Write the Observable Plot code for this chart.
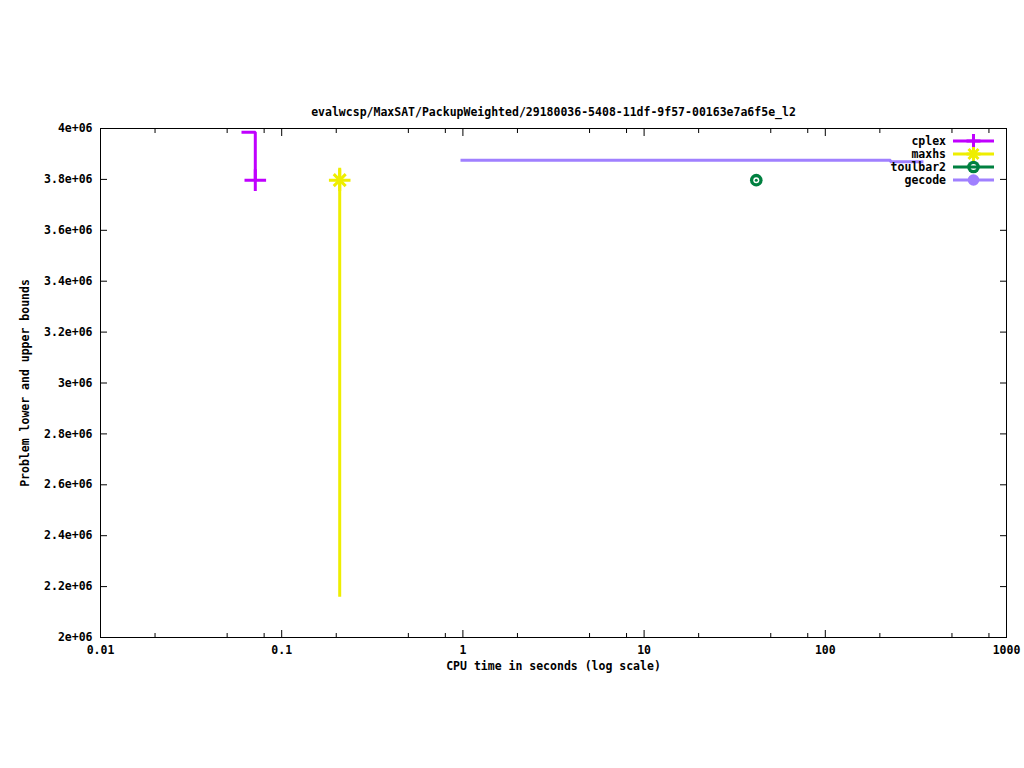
<!DOCTYPE html>
<html><head><meta charset="utf-8">
<script src="https://cdn.jsdelivr.net/npm/d3@7"></script>
<script src="https://cdn.jsdelivr.net/npm/@observablehq/plot@0.6"></script>
<style>body{margin:0;background:#fff} svg{display:block}</style>
</head><body><div id="chart"></div>
<script>
const title = "evalwcsp/MaxSAT/PackupWeighted/29180036-5408-11df-9f57-00163e7a6f5e_l2";
const xLabel = "CPU time in seconds (log scale)";
const yLabel = "Problem lower and upper bounds";

const solvers = ["cplex", "maxhs", "toulbar2", "gecode"];
const colors = ["#c000ff", "#eeee00", "#008040", "#a080ff"];

// cplex: bound steps, solution marker at last point
const cplexTime = [0.06, 0.0715];
const cplexValue = [3985000, 3797000];
// maxhs: lower/upper bound bar and solution
const maxhsTime = [0.209];
const maxhsLower = [2158000];
const maxhsUpper = [3844000];
const maxhsValue = [3797000];
// toulbar2: solution
const toulbar2Time = [41.6];
const toulbar2Value = [3797000];
// gecode: upper bound steps
const gecodeTime = [0.97, 229, 348];
const gecodeValue = [3875000, 3869500, 3869500];

const xTicks = [0.01, 0.1, 1, 10, 100, 1000];
const xTickLabels = ["0.01", "0.1", "1", "10", "100", "1000"];
const xMinorTicks = [0.02, 0.05, 0.08, 0.2, 0.5, 0.8, 2, 5, 8, 20, 50, 80, 200, 500, 800];
const yTicks = [2000000, 2200000, 2400000, 2600000, 2800000, 3000000, 3200000, 3400000, 3600000, 3800000, 4000000];
const yTickLabels = ["2e+06", "2.2e+06", "2.4e+06", "2.6e+06", "2.8e+06", "3e+06", "3.2e+06", "3.4e+06", "3.6e+06", "3.8e+06", "4e+06"];

const cplex = cplexTime.map((t, i) => ({t, v: cplexValue[i]}));
const maxhs = maxhsTime.map((t, i) => ({t, lo: maxhsLower[i], hi: maxhsUpper[i], v: maxhsValue[i]}));
const toulbar2 = toulbar2Time.map((t, i) => ({t, v: toulbar2Value[i]}));
const gecode = gecodeTime.map((t, i) => ({t, v: gecodeValue[i]}));

const font = "DejaVu Sans Mono";
const fs = 11.5;
const chart = Plot.plot({
  width: 1024,
  height: 768,
  marginLeft: 100,
  marginRight: 18,
  marginTop: 128,
  marginBottom: 131,
  style: {fontFamily: font, fontSize: fs + "px", fontWeight: "bold", background: "#fff", color: "#000"},
  x: {type: "log", domain: [0.01, 1000]},
  y: {domain: [2000000, 4000000]},
  marks: [
    Plot.frame({stroke: "#000"}),
    // major ticks (inward, mirrored)
    Plot.axisX(xTicks, {anchor: "bottom", tickSize: -7, fill: "none", label: null}),
    Plot.axisX(xTicks, {anchor: "top", tickSize: -7, fill: "none", label: null}),
    Plot.axisX(xMinorTicks, {anchor: "bottom", tickSize: -4, fill: "none", label: null}),
    Plot.axisX(xMinorTicks, {anchor: "top", tickSize: -4, fill: "none", label: null}),
    Plot.axisY(yTicks, {anchor: "left", tickSize: -7, fill: "none", label: null}),
    Plot.axisY(yTicks, {anchor: "right", tickSize: -7, fill: "none", label: null}),
    // tick labels
    Plot.axisX(xTicks, {anchor: "bottom", tickSize: 0, tickPadding: 8, stroke: "none", label: null, fontSize: fs,
      tickFormat: d => xTickLabels[xTicks.indexOf(d)]}),
    Plot.axisY(yTicks, {anchor: "left", tickSize: 0, tickPadding: 8, stroke: "none", label: null, fontSize: fs,
      tickFormat: d => yTickLabels[yTicks.indexOf(d)]}),
    // titles
    Plot.text([title], {frameAnchor: "top", dy: -21, text: d => d, fontSize: fs}),
    Plot.text([xLabel], {frameAnchor: "bottom", dy: 32, text: d => d, fontSize: fs}),
    Plot.text([yLabel], {frameAnchor: "left", dx: -75, rotate: -90, textAnchor: "middle", text: d => d, fontSize: fs}),
    // data
    Plot.line(gecode, {x: "t", y: "v", curve: "step-after", stroke: colors[3], strokeWidth: 3, strokeLinecap: "butt", strokeLinejoin: "miter"}),
    Plot.line(cplex, {x: "t", y: "v", curve: "step-after", stroke: colors[0], strokeWidth: 3, strokeLinecap: "butt", strokeLinejoin: "miter"}),
    Plot.dot(cplex.slice(-1), {x: "t", y: "v", symbol: "plus", r: 7, stroke: colors[0], strokeWidth: 3}),
    Plot.ruleX(maxhs, {x: "t", y1: "lo", y2: "hi", stroke: colors[1], strokeWidth: 3}),
    Plot.dot(maxhs, {x: "t", y: "v", symbol: "plus", r: 7, stroke: colors[1], strokeWidth: 3}),
    Plot.dot(maxhs, {x: "t", y: "v", symbol: "times", r: 5.5, stroke: colors[1], strokeWidth: 3}),
    Plot.dot(toulbar2, {x: "t", y: "v", r: 6.3, fill: colors[2]}),
    Plot.dot(toulbar2, {x: "t", y: "v", r: 3, fill: "#fff"}),
    Plot.dot(toulbar2, {x: "t", y: "v", r: 1.5, fill: colors[2]})
  ]
});
document.getElementById("chart").append(chart);

// legend (top-right, gnuplot style)
const svg = d3.select(chart);
const g = svg.append("g").attr("font-family", font).attr("font-size", fs + "px").attr("font-weight", "bold");
solvers.forEach((s, i) => {
  const y = 141 + 13 * i;
  const c = colors[i];
  g.append("text").attr("x", 946).attr("y", y).attr("dy", "0.35em").attr("text-anchor", "end").attr("fill", "#000").text(s);
  const mx = 973.5;
  if (i === 2) {
    g.append("circle").attr("cx", mx).attr("cy", y).attr("r", 6.3).attr("fill", c);
    g.append("circle").attr("cx", mx).attr("cy", y).attr("r", 3).attr("fill", "#fff");
  }
  if (i === 3) {
    g.append("circle").attr("cx", mx).attr("cy", y).attr("r", 5.8).attr("fill", c);
  }
  g.append("line").attr("x1", 953).attr("x2", 994).attr("y1", y).attr("y2", y).attr("stroke", c).attr("stroke-width", 3);
  if (i === 0) {
    g.append("path").attr("transform", `translate(${mx},${y})`).attr("d", "M-7,0H7M0,-7V7").attr("stroke", c).attr("stroke-width", 3).attr("fill", "none");
  }
  if (i === 1) {
    g.append("path").attr("transform", `translate(${mx},${y})`).attr("d", "M-7,0H7M0,-7V7M-5,-5L5,5M-5,5L5,-5").attr("stroke", c).attr("stroke-width", 3).attr("fill", "none");
  }
});
</script>
</body></html>
